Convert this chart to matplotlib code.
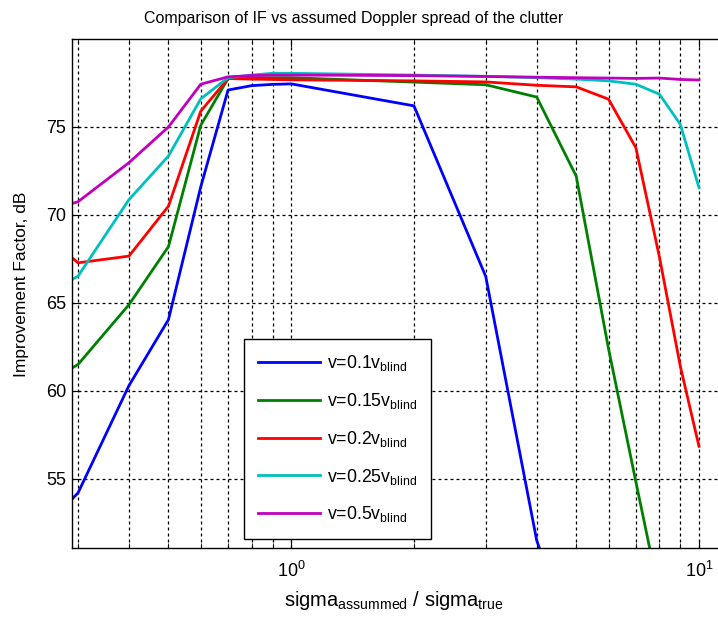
import matplotlib
matplotlib.use("Agg")
import matplotlib.pyplot as plt
import matplotlib.ticker as mticker

plt.rcParams["font.family"] = ["Liberation Sans", "DejaVu Sans"]
plt.rcParams["mathtext.fontset"] = "custom"
plt.rcParams["mathtext.rm"] = "Liberation Sans"
plt.rcParams["mathtext.it"] = "Liberation Sans:italic"
plt.rcParams["mathtext.bf"] = "Liberation Sans:bold"

# sigma_assumed / sigma_true
sigma_ratio = [0.29, 0.3, 0.4, 0.5, 0.6, 0.7, 0.8, 0.9, 1, 2, 3, 4, 5, 6, 7, 8, 9, 10]

# improvement factor (dB) for each target velocity
if_v010 = [53.85, 54.2, 60.3, 64.05, 71.6, 77.1, 77.35, 77.42, 77.45, 76.2, 66.5, 51.5,
           45.0, 40.0, 36.0, 33.0, 30.0, 28.0]
if_v015 = [61.3, 61.5, 64.9, 68.2, 75.1, 77.75, 77.8, 77.8, 77.8, 77.55, 77.4, 76.7,
           72.2, 62.4, 54.85, 48.4, 43.0, 38.0]
if_v020 = [67.57, 67.28, 67.66, 70.5, 75.9, 77.75, 77.72, 77.7, 77.68, 77.62, 77.56, 77.37,
           77.28, 76.58, 73.83, 67.6, 61.4, 56.85]
if_v025 = [66.33, 66.52, 70.87, 73.35, 76.6, 77.8, 77.95, 78.05, 78.05, 77.95, 77.88, 77.8,
           77.72, 77.62, 77.43, 76.86, 75.15, 71.55]
if_v050 = [70.65, 70.75, 72.97, 75.0, 77.43, 77.85, 77.92, 77.95, 77.95, 77.92, 77.87, 77.83,
           77.8, 77.78, 77.76, 77.78, 77.7, 77.67]

series = [
    (if_v010, (0, 0, 1), r"v=0.1v$_{\mathrm{blind}}$"),
    (if_v015, (0, 0.5, 0), r"v=0.15v$_{\mathrm{blind}}$"),
    (if_v020, (1, 0, 0), r"v=0.2v$_{\mathrm{blind}}$"),
    (if_v025, (0, 0.75, 0.75), r"v=0.25v$_{\mathrm{blind}}$"),
    (if_v050, (0.75, 0, 0.75), r"v=0.5v$_{\mathrm{blind}}$"),
]

W, H = 718, 621
fig = plt.figure(figsize=(W / 100, H / 100), dpi=100)
# the right edge of the plot box lies past the image border, as in the reference
ax = fig.add_axes([72 / W, (H - 548) / H, 670 / W, (548 - 39) / H])

for vals, col, lab in series:
    ax.plot(sigma_ratio, vals, color=col, linewidth=2, label=lab)

ax.set_xscale("log")
ax.set_xlim(0.29, 12.75)
ax.set_ylim(51.07, 80.0)
ax.set_yticks([55, 60, 65, 70, 75])
ax.xaxis.set_minor_formatter(mticker.NullFormatter())

ax.grid(True, which="both", color="black", linewidth=0.9, linestyle=(0, (2.4, 2.4)))
ax.tick_params(which="both", direction="in", top=True, right=True, labelsize=13)
ax.tick_params(which="major", length=6)
ax.tick_params(which="minor", length=3.5)
ax.tick_params(axis="x", pad=9)
ax.tick_params(axis="y", pad=4)
for sp in ax.spines.values():
    sp.set_linewidth(1.0)

leg = ax.legend(loc="upper left", bbox_to_anchor=(244 / W, 1 - 339 / H),
                bbox_transform=fig.transFigure, borderaxespad=0, fontsize=12.8,
                handlelength=3.5, handletextpad=0.35, labelspacing=1.0,
                borderpad=0.8, fancybox=False, framealpha=1, edgecolor="black")
leg.get_frame().set_linewidth(1.0)

fig.text(354 / W, 1 - 23 / H, "Comparison of IF vs assumed Doppler spread of the clutter",
         ha="center", va="baseline", fontsize=11.5)
fig.text(22 / W, 1 - 284 / H, "Improvement Factor, dB", rotation=90,
         ha="center", va="center", fontsize=12.5)
fig.text(394 / W, 1 - 600 / H,
         r"sigma$_{\mathrm{assummed}}$ / sigma$_{\mathrm{true}}$",
         ha="center", va="center", fontsize=14.5)

fig.savefig("out.png", dpi=100)
